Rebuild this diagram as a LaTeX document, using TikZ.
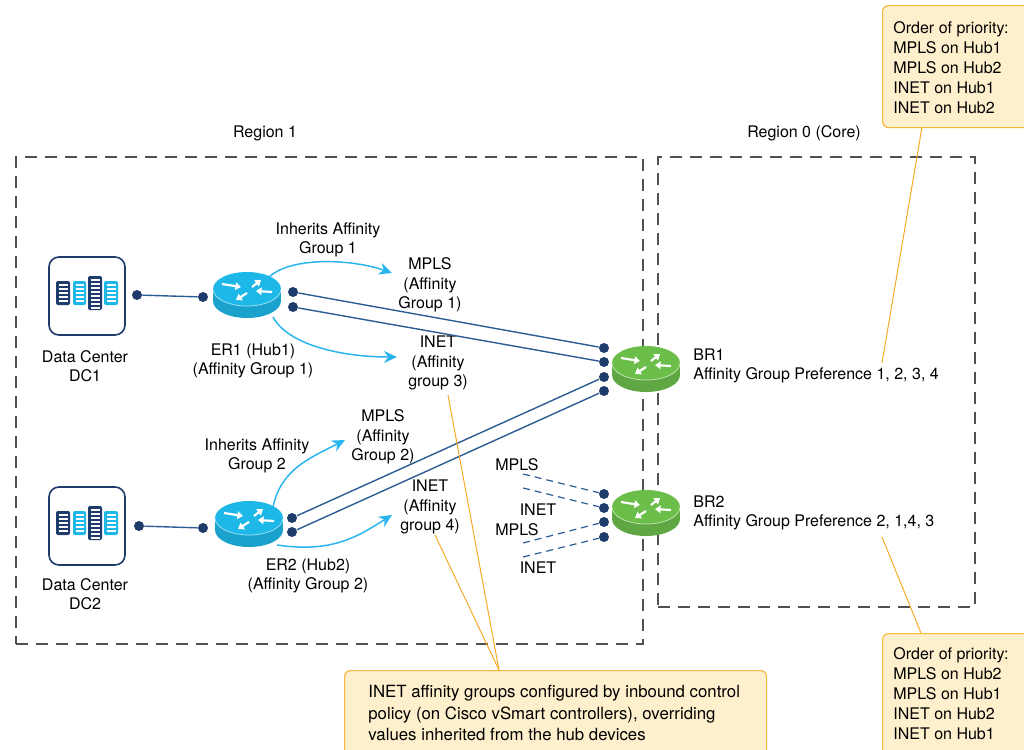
\documentclass[tikz,border=0pt]{standalone}
\usepackage{fontspec}
\setmainfont{TeX Gyre Heros}
\usetikzlibrary{arrows.meta, calc, positioning}
\definecolor{navy}{RGB}{29,60,107}
\definecolor{linkblue}{RGB}{44,92,148}
\definecolor{routercyan}{RGB}{30,184,232}
\definecolor{routergreen}{RGB}{108,190,75}
\definecolor{arrowcyan}{RGB}{43,181,238}
\definecolor{noteorange}{RGB}{247,170,40}
\definecolor{notefill}{RGB}{254,240,204}
\definecolor{noteborder}{RGB}{247,183,63}
\definecolor{regiongray}{RGB}{80,80,80}
\tikzset{font=\fontsize{8}{9.8}\selectfont}
\tikzset{port/.style={circle, fill=navy, inner sep=0pt, minimum size=5pt}}
\tikzset{region/.style={draw=regiongray, line width=0.9pt, dash pattern=on 6pt off 4pt, inner sep=0pt}}
\tikzset{callout/.style={draw=noteborder, fill=notefill, line width=0.6pt, rounded corners=3pt, inner sep=0pt}}
\tikzset{pointer/.style={draw=noteorange, line width=0.5pt}}
\tikzset{link/.style={draw=linkblue, line width=0.7pt}}
\tikzset{wan/.style={draw=linkblue, line width=0.6pt, dash pattern=on 3.5pt off 2.5pt}}
\tikzset{inherit/.style={draw=arrowcyan, line width=0.75pt, -{Stealth[length=6.5pt,width=6pt]}}}
\tikzset{txt/.style={align=center, inner sep=0pt}}
% router icon: name, position, colour
\newcommand{\router}[3]{%
  \node[minimum width=34pt, minimum height=23pt, inner sep=0pt] (#1) at (#2) {};
  \begin{scope}[shift={(#2)}]
    \fill[#3!88!black] (0,6) ellipse [x radius=17pt, y radius=8.5pt];
    \fill[#3!88!black] (-34,-6) rectangle (34,6);
    \fill[#3] (0,-6) ellipse [x radius=17pt, y radius=8.5pt];
    \draw[white!55!#3, line width=0.4pt] (-34,-6) arc [start angle=180, end angle=360, x radius=17pt, y radius=8.5pt];
    \begin{scope}[white, line width=1.1pt, -{Triangle[length=2.8pt, width=3.8pt]}]
      \draw (-25,-11) -- (-6,-8);
      \draw (5,-8) -- (14,-15);
      \draw (25,-3) -- (9,-4);
      \draw (0,-2) -- (-11,5);
    \end{scope}
  \end{scope}}
% data centre icon: name, position
\newcommand{\datacenter}[2]{%
  \node[draw=navy, line width=0.8pt, fill=white, rounded corners=5pt,
        minimum width=38pt, minimum height=39pt, inner sep=0pt] (#1) at (#2) {};
  \begin{scope}[shift={(#2)}]
    \foreach \xa/\xb/\ya/\yb/\col/\n in {-31/-17/-15/9/navy/5, -14/-1/-15/9/routercyan/5,
                                          1/15/-20/14/navy/8, 17/31/-15/9/routercyan/5}{
      \fill[\col, rounded corners=1pt] (\xa,\ya) rectangle (\xb,\yb);
      \foreach \k in {1,...,\n}
        \draw[white, line width=0.8pt] (\xa+2.5,\ya+\k*4) -- (\xb-2.5,\ya+\k*4);
    }
  \end{scope}}

\begin{document}
\begin{tikzpicture}[x=0.5pt, y=-0.5pt]
  \useasboundingbox (0,0) rectangle (1024,750);
  % Regions
  \node[region, minimum width=313.5pt, minimum height=243.5pt, anchor=north west] (region1) at (15,156) {};
  \node[region, minimum width=158.5pt, minimum height=225pt, anchor=north west] (region0) at (657,156) {};
  \node (region1lbl) at (265,133) {Region 1};
  \node (region0lbl) at (804,133) {Region 0 (Core)};

  %Nodes
  \datacenter{dc1}{87,296}
  \datacenter{dc2}{87,526}
  \router{er1}{247,295}{routercyan}
  \router{er2}{249,524}{routercyan}
  \router{br1}{646,369}{routergreen}
  \router{br2}{646,513}{routergreen}

  \node[port] (dc1p) at (137,295) {};
  \node[port] (er1w) at (203,297) {};
  \node[port] (er1a) at (293,292) {};
  \node[port] (er1b) at (293,307) {};
  \node[port] (dc2p) at (139,526) {};
  \node[port] (er2w) at (203,528) {};
  \node[port] (er2a) at (292,518) {};
  \node[port] (er2b) at (292,532) {};
  \foreach \i/\y in {a/348, b/362, c/377, d/391}
    \node[port] (br1\i) at (604,\y) {};
  \foreach \i/\y in {a/494, b/508, c/522, d/537}
    \node[port] (br2\i) at (604,\y) {};

  \node[txt] (dc1lbl) at (85,366) {Data Center\\DC1};
  \node[txt] (dc2lbl) at (85,594) {Data Center\\DC2};
  \node[txt] (er1lbl) at (253,361) {ER1 (Hub1)\\(Affinity Group 1)};
  \node[txt] (er2lbl) at (308,576) {ER2 (Hub2)\\(Affinity Group 2)};
  \node[txt] (inh1lbl) at (328,240) {Inherits Affinity\\Group 1};
  \node[txt] (inh2lbl) at (257,456) {Inherits Affinity\\Group 2};
  \node[txt] (mpls1lbl) at (430,285) {MPLS\\(Affinity\\Group 1)};
  \node[txt] (inet3lbl) at (438,363) {INET\\(Affinity\\group 3)};
  \node[txt] (mpls2lbl) at (383,437) {MPLS\\(Affinity\\Group 2)};
  \node[txt] (inet4lbl) at (430,507) {INET\\(Affinity\\group 4)};
  \node[txt, align=left, anchor=west] (br1lbl) at (693,366) {BR1\\Affinity Group Preference 1, 2, 3, 4};
  \node[txt, align=left, anchor=west] (br2lbl) at (693,513) {BR2\\Affinity Group Preference 2, 1,4, 3};
  \node[txt] (wan1lbl) at (517,465) {MPLS};
  \node[txt] (wan2lbl) at (538,510) {INET};
  \node[txt] (wan3lbl) at (517,530) {MPLS};
  \node[txt] (wan4lbl) at (538,568) {INET};

  \coordinate (er1top) at (268,278);
  \coordinate (mpls1) at (392,273);
  \coordinate (er1bot) at (273,317);
  \coordinate (inet3) at (397,357);
  \coordinate (er2top) at (273,507);
  \coordinate (mpls2) at (345,440);
  \coordinate (er2bot) at (277,545);
  \coordinate (inet4) at (392,515);
  \coordinate (wanA) at (523,474);
  \coordinate (wanB) at (523,488);
  \coordinate (wanC) at (523,543);
  \coordinate (wanD) at (523,557);

  % Edges
  \begin{scope}[every edge/.style={link}]
    \draw (dc1p) edge (er1w);
    \draw (dc2p) edge (er2w);
    \draw (er1a) edge (br1a);
    \draw (er1b) edge (br1b);
    \draw (er2a) edge (br1c);
    \draw (er2b) edge (br1d);
  \end{scope}
  \begin{scope}[every edge/.style={wan}]
    \draw (wanA) edge (br2a);
    \draw (wanB) edge (br2b);
    \draw (wanC) edge (br2c);
    \draw (wanD) edge (br2d);
  \end{scope}
  \draw[inherit] (er1top) .. controls +(22,-22) and +(-40,-14) .. (mpls1);
  \draw[inherit] (er1bot) .. controls +(15,28) and +(-55,0) .. (inet3);
  \draw[inherit] (er2top) .. controls +(8,-38) and +(-35,18) .. (mpls2);
  \draw[inherit] (er2bot) .. controls +(55,8) and +(-35,22) .. (inet4);

  % Notes
  \coordinate (prioAfoot) at (922,127);
  \coordinate (prioApin) at (882,363);
  \coordinate (prioBfoot) at (921,633);
  \coordinate (prioBpin) at (882,537);
  \coordinate (notefoot) at (499,670);
  \coordinate (notepinA) at (448,395);
  \coordinate (notepinB) at (435,535);
  \draw[pointer] (prioAfoot) -- (prioApin);
  \draw[pointer] (prioBfoot) -- (prioBpin);
  \draw[pointer] (notefoot) -- (notepinA);
  \draw[pointer] (notefoot) -- (notepinB);

  \node[callout, minimum width=80pt, minimum height=61pt, anchor=north west] (prioA) at (882,5) {};
  \node[txt, align=left, anchor=west, font=\fontsize{8}{10}\selectfont] (prioAtxt) at (893,68)
    {Order of priority:\\MPLS on Hub1\\MPLS on Hub2\\INET on Hub1\\INET on Hub2};
  \node[callout, minimum width=80pt, minimum height=66pt, anchor=north west] (prioB) at (882,633) {};
  \node[txt, align=left, anchor=west, font=\fontsize{8}{10}\selectfont] (prioBtxt) at (893,694)
    {Order of priority:\\MPLS on Hub2\\MPLS on Hub1\\INET on Hub2\\INET on Hub1};
  \node[callout, minimum width=211pt, minimum height=48pt, anchor=north west] (note) at (344,670) {};
  \node[txt, align=left, anchor=west, font=\fontsize{8.4}{10.6}\selectfont] (notetxt) at (368,713)
    {INET affinity groups configured by inbound control\\policy (on Cisco vSmart controllers), overriding\\values inherited from the hub devices};
\end{tikzpicture}
\end{document}
